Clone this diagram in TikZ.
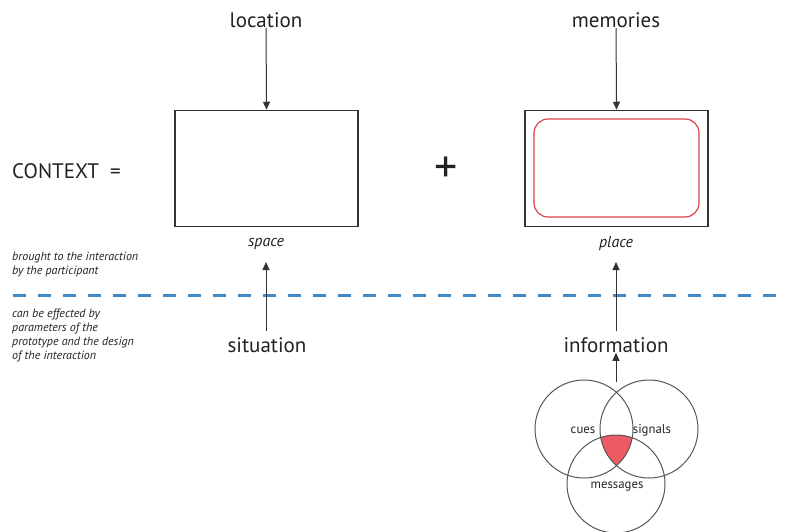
\documentclass[tikz,border=0pt]{standalone}
\usepackage{fontspec}
\setmainfont{PT Sans}
\usetikzlibrary{arrows.meta}
\definecolor{ink}{HTML}{222222}
\definecolor{edge}{HTML}{333333}
\definecolor{ring}{HTML}{555555}
\definecolor{rim}{HTML}{D9414B}
\definecolor{core}{HTML}{EE5A64}
\definecolor{divider}{HTML}{4288C6}
\tikzset{
  big/.style={text=ink, font=\fontsize{21}{24}\selectfont, inner sep=0pt},
  tag/.style={text=ink, font=\fontsize{16}{18}\selectfont\itshape, inner sep=0pt},
  % anchored at the baseline of the last line
  note/.style={text=ink, font=\fontsize{12}{14}\selectfont\itshape, inner sep=0pt, align=left, anchor=base west},
  frame/.style={draw=edge, line width=1.5pt, minimum width=183pt, minimum height=116pt, inner sep=0pt},
  arrow/.style={draw=edge, line width=1pt, -{Triangle[length=8pt,width=7pt]}},
  venn/.style={circle, draw=ring, line width=1pt, minimum size=98pt, inner sep=0pt},
  vlabel/.style={text=ink, font=\fontsize{12.8}{15}\selectfont, inner sep=0pt},
}
\begin{document}
\begin{tikzpicture}[x=1pt, y=-1pt]
\useasboundingbox (0,0) rectangle (786,532);

% left column: location -> space
\node[big] (location) at (266,20) {location};
\node[frame] (spacebox) at (266.5,168.5) {};
\node[tag] (space) at (266,244) {space};
\node[big] (situation) at (267,345) {situation};

% right column: memories -> place
\node[big] (memories) at (616,20) {memories};
\node[frame] (placebox) at (616.5,168.5) {};
\draw[draw=rim, line width=1.2pt, rounded corners=14pt] (534,119) rectangle (699,217);
\node[tag] (place) at (616,243) {place};
\node[big] (information) at (616,345) {information};

% equation
\node[big, anchor=west] (context) at (12,171) {CONTEXT\ \ =};
\node[big, font=\fontsize{46}{46}\selectfont] (plus) at (446,170) {+};

% divider between the two kinds of context
\draw[divider, line width=3pt, dash pattern=on 13pt off 12pt] (13,295) -- (786,295);
\node[note] (above) at (12,274) {brought to the interaction\\by the participant};
\node[note] (below) at (12,359) {can be effected by\\parameters of the\\prototype and the design\\of the interaction};

% venn diagram of information
\begin{scope}
  \clip (584,429) circle (49pt);
  \clip (649,429) circle (49pt);
  \fill[core] (616,484) circle (49pt);
\end{scope}
\node[venn] (cues) at (584,429) {};
\node[venn] (signals) at (649,429) {};
\node[venn] (messages) at (616,484) {};
\node[vlabel] (cuestext) at (583,430) {cues};
\node[vlabel] (signalstext) at (652,430) {signals};
\node[vlabel] (messagestext) at (617,487) {messages};
\coordinate (venntop) at (616,382);

% connectors
\draw[arrow] (location) -- (spacebox.north);
\draw[arrow] (memories) -- (placebox.north);
\draw[arrow] (situation.north) ++(-1,-6) coordinate (s1) (s1) -- (space.south |- 0,262);
\draw[arrow] (information.north) ++(0,-6) coordinate (i1) (i1) -- (place.south |- 0,262);
\draw[arrow] (venntop) -- (information.south);
\end{tikzpicture}
\end{document}
